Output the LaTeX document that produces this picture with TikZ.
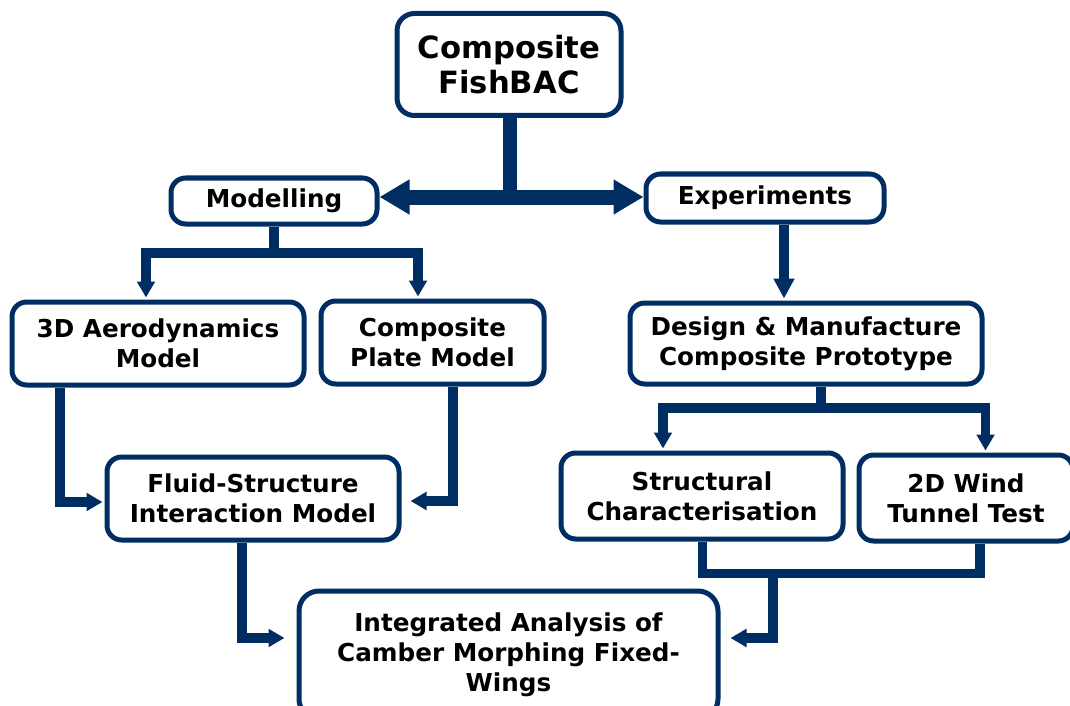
\documentclass[tikz,border=0pt]{standalone}
\usepackage{fontspec}
\setmainfont{DejaVu Sans}
\usetikzlibrary{arrows.meta}
\definecolor{navy}{RGB}{0,45,98}
\begin{document}
\begin{tikzpicture}[x=0.75pt,y=-0.75pt,
  box/.style={draw=navy, line width=3.75pt, fill=white, rounded corners=11pt,
    align=center, inner sep=0pt, text=black,
    font=\fontsize{18.5}{22.5}\selectfont\bfseries},
  conn/.style={draw=navy, line width=7pt, line join=miter},
  arrowtip/.style={-{Triangle[length=12pt,width=13pt]}},
  bigarrowtip/.style={-{Triangle[length=15pt,width=15pt]}},
]
\useasboundingbox (0,0) rectangle (1070,706);

% boxes
\node[box, minimum width=168pt, minimum height=76.5pt, rounded corners=13pt,
  font=\fontsize{23}{26}\selectfont\bfseries] (top) at (509,64.5) {Composite\\FishBAC};
\node[box, minimum width=154.5pt, minimum height=34.5pt] (mod) at (274,201) {Modelling};
\node[box, minimum width=178.5pt, minimum height=36pt] (exp) at (765,198) {Experiments};
\node[box, minimum width=219pt, minimum height=62.25pt] (aero) at (158,343.5) {3D Aerodynamics\\Model};
\node[box, minimum width=167.25pt, minimum height=62.25pt] (plate) at (432.5,342.5) {Composite\\Plate Model};
\node[box, minimum width=264pt, minimum height=60.75pt] (design) at (806,343.5) {Design \& Manufacture\\Composite Prototype};
\node[box, minimum width=219pt, minimum height=62.25pt] (fsi) at (253,498.5) {Fluid-Structure\\Interaction Model};
\node[box, minimum width=211.5pt, minimum height=64.5pt] (struct) at (702,496) {Structural\\Characterisation};
\node[box, minimum width=160.5pt, minimum height=64.5pt] (wind) at (966,498) {2D Wind\\Tunnel Test};
\node[box, minimum width=314.25pt, minimum height=96pt, rounded corners=15pt] (integ) at (508.5,655)
  {Integrated Analysis of\\Camber Morphing Fixed-\\Wings};

% main split below the top box
\coordinate (hub) at (510,197);
\draw[navy, line width=10.5pt] (hub |- top.south) -- (hub |- 0,205);
\draw[navy, line width=11.25pt,
  {Triangle[length=22.5pt,width=24.75pt]}-{Triangle[length=22.5pt,width=24.75pt]}]
  (mod.east |- hub) -- (exp.west |- hub);

% modelling branch
\coordinate (mj) at (274.5,253);
\draw[conn] (mod.south) -- (mod.south |- mj);
\draw[conn, arrowtip, shorten >=1.5pt] (mj) -| (aero.north -| 146,0);
\draw[conn, arrowtip, shorten >=1.5pt] (mj) -| (plate.north -| 418,0);

% experiments branch
\draw[conn, bigarrowtip, shorten >=1.5pt] (exp.south -| 784,0) -- (design.north -| 784,0);
\coordinate (dj) at (821,408);
\draw[conn] (design.south -| dj) -- (dj);
\draw[conn, arrowtip, shorten >=1.5pt] (dj) -| (struct.north -| 663,0);
\draw[conn, arrowtip, shorten >=1.5pt] (dj) -| (wind.north -| 985.5,0);

% into the coupled model
\draw[conn, arrowtip, shorten >=1.5pt] (aero.south -| 60,0) |- (fsi.west |- 0,502);
\draw[conn, arrowtip, shorten >=6.75pt] (plate.south -| 453,0) |- (fsi.east |- 0,501);

% into the integrated analysis
\draw[conn, arrowtip, shorten >=9pt] (fsi.south -| 242,0) |- (integ.west |- 0,638);
\coordinate (ej) at (773,573.5);
\draw[conn] (struct.south -| 702.5,0) |- (ej) -| (wind.south -| 980,0);
\draw[conn, arrowtip, shorten >=7.5pt] (ej) |- (integ.east |- 0,638);
\end{tikzpicture}
\end{document}
